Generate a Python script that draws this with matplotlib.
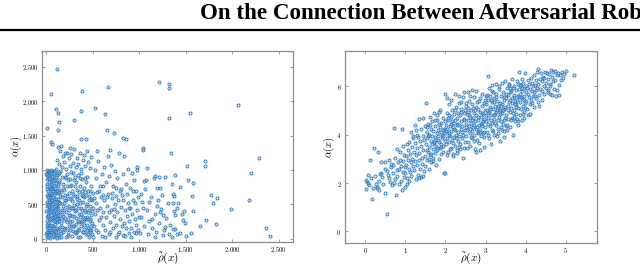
import matplotlib
matplotlib.use("Agg")
import matplotlib.pyplot as plt
from matplotlib.ticker import FuncFormatter

plt.rcParams['mathtext.fontset'] = 'cm'

# ---------------- Left panel data (rho_tilde, alpha) ----------------
left_pts = [
    # dense column near zero
    (5,20),(12,85),(3,150),(20,230),(8,310),(30,45),(15,400),(40,120),(6,480),(25,560),(10,640),(35,720),(4,800),(18,880),(28,960),(45,15),(50,270),(55,350),(60,90),(65,510),(70,600),(75,180),(80,690),(85,770),(90,430),(95,850),(100,930),(105,60),(110,240),(115,330),(120,470),(125,580),(130,140),(135,710),(140,820),(145,390),(2,60),(14,190),(22,340),(33,460),(42,620),(52,750),(62,900),(72,980),(82,30),(92,210),(102,370),(112,530),(122,670),(132,860),(142,960),(7,720),(17,600),(27,470),(37,290),(47,840),(57,990),(67,160),(77,420),(87,550),(97,260),(107,700),(117,920),(127,50),(137,300),(147,620),(9,930),(19,510),(29,80),(39,880),(49,650),(59,730),(69,380),(79,950),(89,110),(99,580),(109,810),(119,10),(129,440),(139,250),(149,980),(1,400),(11,540),(21,700),(31,990),(41,200),(51,100),(61,450),(71,300),(81,860),(91,670),(101,490),(111,160),(121,760),(131,350),(141,530),(3,870),(13,950),(23,20),(34,640),(44,380),(54,560),(64,800),(74,70),(84,320),(94,740),(104,890),(114,430),(124,280),(134,960),(144,110),(6,260),(16,100),(26,820),(36,540),(46,720),(56,200),(66,910),(76,510),(86,640),(96,990),(16,990),(26,930),(36,960),(6,1000),(46,1000),(56,950),
    (4,100),(9,200),(14,330),(24,420),(32,530),(38,660),(48,780),(58,860),(68,40),(78,250),(88,360),(98,470),(108,580),(118,690),(128,790),(138,20),(148,170),(2,940),(12,760),(22,610),(32,150),(42,290),(52,420),(62,560),(72,700),(82,150),(92,330),(102,90),(112,280),(122,380),(132,520),(142,680),
    # dense block 150-500
    (155,30),(160,220),(165,420),(170,610),(175,800),(180,90),(185,330),(190,520),(195,710),(200,900),(205,150),(210,380),(215,560),(220,760),(225,940),(230,60),(235,280),(240,480),(245,670),(250,870),(255,120),(260,350),(265,590),(270,780),(275,40),(280,250),(285,450),(290,650),(295,850),(300,180),(305,400),(310,620),(315,820),(320,80),(325,300),(330,510),(335,710),(340,920),(345,140),(350,360),(355,560),(360,760),(365,30),(370,240),(375,440),(380,640),(385,870),(390,100),(395,320),(400,540),(405,740),(410,200),(415,420),(420,680),(425,60),(430,280),(435,500),(440,900),(445,160),(450,380),(455,620),(460,30),(465,260),(470,470),(475,690),(480,120),(485,340),(490,560),(495,230),(500,440),
    (158,680),(168,900),(178,480),(188,140),(198,560),(208,880),(218,240),(228,620),(238,40),(248,420),(258,760),(268,190),(278,550),(288,960),(298,330),(308,760),(318,100),(328,620),(338,450),(348,240),(358,880),(368,520),(378,180),(388,700),(398,90),(408,600),(418,300),(428,820),(438,130),(448,700),(458,420),(468,130),(478,580),(488,60),(498,660),
    (152,520),(162,80),(172,360),(182,740),(192,270),(202,640),(212,20),(222,460),(232,850),(242,190),(252,580),(262,970),(272,330),(282,700),(292,110),(302,490),(312,900),(322,210),(332,580),(342,30),(352,680),(362,320),(372,960),(382,420),(392,620),(402,260),(412,880),(422,470),(432,640),(442,320),(452,60),(462,560),(472,290),(482,760),(492,400),
    (157,300),(174,170),(191,420),(206,300),(224,120),(241,350),(257,240),(273,440),(289,180),(306,90),(323,410),(339,250),(356,120),(371,360),(387,260),(404,140),(421,380),(436,200),(453,280),(469,90),(486,190),
    # upper band 1000-1300
    (105,1020),(120,1150),(135,1080),(150,1280),(165,1050),(180,1200),(195,1120),(210,1010),(225,1250),(240,1170),(255,1060),(270,1230),(285,1100),(300,1300),(315,1040),(330,1180),(345,1090),(360,1250),(375,1010),(390,1140),(405,1220),(420,1060),(435,1270),(450,1120),(465,1030),(480,1190),(130,1330),(160,1350),(200,1240),(250,1320),
    # 500-1000
    (505,20),(515,180),(525,360),(535,520),(545,680),(555,90),(565,270),(575,450),(585,610),(595,40),(605,200),(615,390),(625,560),(635,130),(645,310),(655,480),(665,650),(675,70),(685,240),(695,420),(705,590),(715,150),(725,330),(735,510),(745,20),(755,200),(765,380),(775,560),(785,100),(795,280),(805,460),(815,640),(825,50),(835,230),(845,410),(855,150),(865,330),(875,520),(885,80),(895,260),(905,440),(915,160),(925,360),(935,560),(945,90),(955,290),(965,200),(975,420),(985,120),(995,320),
    (510,590),(530,120),(550,420),(570,700),(590,310),(610,640),(630,20),(650,600),(670,380),(690,100),(710,660),(730,430),(750,620),(770,60),(790,690),(810,180),(830,560),(850,40),(870,650),(890,450),(910,30),(930,690),(950,520),(970,80),(990,600),
    (520,1000),(540,880),(560,1130),(580,760),(600,940),(620,1050),(640,830),(660,1200),(680,910),(700,1070),(720,770),(740,990),(760,880),(780,1250),(800,720),(820,940),(840,1210),(860,800),(880,1020),(900,740),(920,960),(940,850),(960,700),(980,1050),(550,1280),(610,760),(690,1290),(750,730),
    # 1000-1500
    (1005,80),(1020,310),(1035,540),(1050,190),(1065,720),(1080,420),(1095,60),(1110,260),(1125,600),(1140,150),(1155,880),(1170,360),(1185,100),(1200,560),(1215,230),(1230,430),(1250,640),(1270,120),(1290,300),(1310,520),(1330,200),(1350,30),(1370,620),(1390,140),(1410,450),(1440,80),(1460,360),(1490,230),(1015,650),(1045,440),(1075,860),(1105,540),(1135,290),(1165,20),(1195,740),(1225,390),(1280,900),(1320,70),
    # outliers
    (115,2476),(47,2111),(380,2155),(667,2209),(1216,2286),(1324,2257),(1320,2194),(2063,1947),(104,1883),(126,1830),(373,1864),(524,1898),(635,1820),(1320,1762),(1550,1830),(298,1723),(133,1694),(7,1616),(129,1587),(656,1587),(728,1534),(373,1447),(430,1447),(821,1471),(857,1456),(47,1408),(65,1378),(1044,1325),(1044,1286),(1338,1243),(2285,1180),(1707,1131),(1707,1058),(1510,1063),(2202,961),(972,1000),(1080,1024),(1381,927),(1166,908),(1216,903),(1051,845),(1521,849),(1582,815),(1353,801),(1438,757),(1220,733),(1772,641),(1568,621),(1363,650),(1837,597),(1790,515),(1420,519),(1363,524),(1187,481),(1485,408),(1582,398),(1377,398),(1381,340),(1255,340),(1987,437),(2177,558),(1830,214),(1471,267),(1722,267),(1654,184),(2360,155),(2407,34),(1553,83),(1506,34),(1363,136),(1402,73),(1255,49),(1273,170),
]
left_rho = [p[0] for p in left_pts]
left_alpha = [p[1] for p in left_pts]

# ---------------- Right panel data ----------------
right_pts = [
    (0.02,1.75),(0.03,2.11),(0.05,2.05),(0.08,2.35),(0.10,1.90),(0.12,2.94),(0.15,2.20),(0.17,1.32),(0.20,1.78),(0.22,3.46),(0.25,2.30),(0.27,1.95),(0.30,1.85),(0.32,3.28),(0.33,2.10),(0.35,1.72),(0.38,2.40),(0.40,2.88),(0.42,2.25),(0.45,1.98),(0.48,2.60),(0.50,1.57),(0.50,2.85),(0.06,2.00),(0.28,1.80),(0.36,2.36),
    (0.53,0.70),(0.55,2.50),(0.58,2.20),(0.60,2.95),(0.62,2.05),(0.64,2.65),(0.66,1.90),(0.68,2.40),(0.70,2.75),(0.72,4.29),(0.73,2.15),(0.75,3.05),(0.77,1.50),(0.78,2.55),(0.80,2.30),(0.82,2.85),(0.83,1.95),(0.85,2.60),(0.86,3.30),(0.88,2.10),(0.90,2.70),(0.92,4.22),(0.93,2.45),(0.94,3.55),(0.95,2.90),(0.96,2.25),(0.97,3.15),(0.98,1.85),(0.99,2.65),(0.57,2.35),(0.63,2.78),(0.71,2.00),(0.79,3.40),(0.87,2.95),(0.91,1.70),
    (1.00,2.40),(1.01,3.10),(1.02,2.75),(1.03,3.60),(1.05,2.20),(1.06,3.35),(1.07,2.95),(1.08,2.60),(1.10,3.70),(1.11,2.45),(1.12,3.20),(1.13,2.85),(1.14,4.10),(1.15,2.30),(1.16,3.50),(1.17,3.00),(1.18,2.70),(1.20,3.85),(1.21,2.55),(1.22,3.30),(1.23,4.40),(1.24,2.90),(1.25,3.65),(1.26,2.15),(1.27,3.15),(1.28,2.75),(1.29,4.00),(1.30,3.45),(1.31,2.35),(1.32,3.90),(1.33,2.95),(1.34,4.65),(1.35,3.25),(1.36,2.60),(1.37,3.75),(1.38,2.25),(1.39,3.55),(1.40,4.25),(1.41,3.05),(1.42,2.80),(1.43,3.95),(1.44,4.70),(1.45,3.35),(1.46,2.50),(1.47,3.80),(1.48,4.35),(1.49,3.10),(1.50,2.70),(1.04,1.95),(1.19,3.95),(1.09,2.10),(1.26,4.20),(1.35,2.20),(1.45,2.30),
    (1.51,5.32),(1.52,3.60),(1.53,4.10),(1.54,2.95),(1.55,3.85),(1.56,4.45),(1.57,3.30),(1.58,2.60),(1.59,4.00),(1.60,3.50),(1.61,4.75),(1.62,3.15),(1.63,3.75),(1.64,4.25),(1.65,2.85),(1.66,3.95),(1.67,4.55),(1.68,3.40),(1.69,3.05),(1.70,4.15),(1.71,3.65),(1.72,4.90),(1.73,3.25),(1.74,3.90),(1.75,4.35),(1.76,2.75),(1.77,3.55),(1.78,4.05),(1.79,4.60),(1.80,3.35),(1.81,3.80),(1.82,4.20),(1.83,3.00),(1.84,4.95),(1.85,3.70),(1.86,4.30),(1.87,3.45),(1.88,4.10),(1.89,3.20),(1.90,4.50),(1.91,3.85),(1.92,4.00),(1.93,3.55),(1.94,4.70),(1.95,3.30),(1.96,2.43),(1.97,4.25),(1.98,3.75),(1.99,2.40),(1.99,5.67),(2.00,4.05),(1.53,3.35),(1.57,3.95),(1.62,4.40),(1.66,3.60),(1.70,2.90),(1.74,4.60),(1.78,3.45),(1.82,3.95),(1.86,5.00),(1.90,3.60),(1.94,4.20),(1.98,4.55),(1.55,4.30),(1.65,3.20),(1.75,3.80),(1.85,4.45),(1.95,3.95),(1.60,3.00),(1.80,4.80),(1.72,3.70),(1.88,3.50),
    (2.01,4.40),(2.02,3.60),(2.03,4.90),(2.04,3.85),(2.05,4.25),(2.06,3.30),(2.07,4.60),(2.08,4.05),(2.09,5.25),(2.10,3.70),(2.11,4.35),(2.12,3.95),(2.13,4.75),(2.14,3.45),(2.15,4.15),(2.16,5.00),(2.17,3.80),(2.18,4.50),(2.19,3.20),(2.20,4.30),(2.21,4.85),(2.22,3.90),(2.23,4.60),(2.24,3.55),(2.25,4.20),(2.26,5.15),(2.27,4.00),(2.28,4.45),(2.29,3.35),(2.30,4.70),(2.31,4.10),(2.32,3.75),(2.33,5.30),(2.34,4.40),(2.35,3.95),(2.36,4.80),(2.37,3.60),(2.38,4.25),(2.39,5.05),(2.40,4.55),(2.41,3.85),(2.42,4.35),(2.43,5.55),(2.44,4.00),(2.45,4.65),(2.46,3.45),(2.47,4.90),(2.48,4.20),(2.49,3.70),(2.50,5.20),
    (2.02,4.15),(2.06,4.70),(2.10,4.00),(2.14,4.45),(2.18,3.65),(2.22,4.25),(2.26,3.85),(2.30,4.40),(2.34,3.50),(2.38,4.95),(2.42,4.10),(2.46,4.60),(2.50,4.30),(2.04,3.15),(2.12,3.40),(2.20,3.10),(2.28,3.25),(2.36,3.40),(2.44,3.05),(2.08,4.80),(2.16,4.55),(2.24,5.00),(2.32,4.90),(2.40,5.35),(2.48,5.00),(2.05,5.50),(2.15,5.45),(2.25,5.70),(2.35,5.60),(2.45,5.75),
    (2.51,4.45),(2.52,3.95),(2.53,4.85),(2.54,4.20),(2.55,5.10),(2.56,3.70),(2.57,4.60),(2.58,4.35),(2.59,5.40),(2.60,4.05),(2.61,4.75),(2.62,3.55),(2.63,5.00),(2.64,4.50),(2.65,4.15),(2.66,5.25),(2.67,3.85),(2.68,4.70),(2.69,4.30),(2.70,5.55),(2.71,4.00),(2.72,4.90),(2.73,3.40),(2.74,4.55),(2.75,5.15),(2.76,4.25),(2.77,4.80),(2.78,3.80),(2.79,5.35),(2.80,4.60),(2.81,4.10),(2.82,5.05),(2.83,4.40),(2.84,3.65),(2.85,4.95),(2.86,5.50),(2.87,4.20),(2.88,4.75),(2.89,3.95),(2.90,5.20),(2.91,4.50),(2.92,5.70),(2.93,4.05),(2.94,4.85),(2.95,3.50),(2.96,5.30),(2.97,4.65),(2.98,4.30),(2.99,5.00),(3.00,4.80),
    (2.52,5.30),(2.56,4.95),(2.60,5.60),(2.64,3.90),(2.68,5.10),(2.72,4.40),(2.76,5.80),(2.80,4.05),(2.84,5.40),(2.88,4.45),(2.92,4.90),(2.96,4.10),(3.00,5.60),(2.54,3.45),(2.62,4.25),(2.70,3.75),(2.78,4.30),(2.86,4.10),(2.94,4.55),(2.58,4.80),(2.66,4.60),(2.74,5.00),(2.82,4.75),(2.90,4.35),(2.98,5.45),(2.55,5.75),(2.65,5.85),(2.75,3.30),(2.85,3.35),(2.95,3.90),
    (3.01,4.55),(3.02,5.25),(3.03,4.10),(3.04,5.00),(3.05,6.44),(3.06,4.70),(3.07,5.45),(3.08,3.85),(3.09,4.95),(3.10,5.60),(3.11,4.35),(3.12,5.15),(3.13,4.80),(3.14,3.60),(3.15,5.35),(3.16,4.50),(3.17,5.80),(3.18,4.15),(3.19,5.05),(3.20,4.65),(3.21,5.50),(3.22,4.00),(3.23,5.20),(3.24,4.85),(3.25,5.70),(3.26,4.40),(3.27,4.95),(3.28,3.95),(3.29,5.40),(3.30,4.60),(3.31,5.10),(3.32,4.25),(3.33,5.90),(3.34,4.75),(3.35,5.30),(3.36,3.75),(3.37,5.00),(3.38,4.55),(3.39,5.60),(3.40,4.20),(3.41,5.25),(3.42,4.90),(3.43,5.75),(3.44,4.45),(3.45,5.05),(3.46,3.90),(3.47,5.45),(3.48,4.70),(3.49,5.15),(3.50,4.35),
    (3.03,5.65),(3.07,4.45),(3.11,5.05),(3.15,4.20),(3.19,5.75),(3.23,4.50),(3.27,5.55),(3.31,4.05),(3.35,4.95),(3.39,4.30),(3.43,5.00),(3.47,4.15),(3.05,4.90),(3.13,5.45),(3.21,4.80),(3.29,5.00),(3.37,4.85),(3.45,5.55),(3.09,5.95),(3.17,6.05),(3.25,6.10),(3.33,6.00),(3.41,6.15),(3.49,6.20),(3.06,4.00),(3.14,4.60),(3.22,5.35),(3.30,5.20),(3.38,5.20),(3.46,4.60),
    (3.51,5.50),(3.52,4.80),(3.53,5.95),(3.54,4.40),(3.55,5.20),(3.56,5.65),(3.57,4.65),(3.58,5.35),(3.59,6.10),(3.60,4.95),(3.61,5.45),(3.62,4.30),(3.63,5.80),(3.64,5.10),(3.65,4.70),(3.66,6.30),(3.67,5.30),(3.68,4.90),(3.69,4.00),(3.70,5.55),(3.71,5.00),(3.72,6.00),(3.73,4.55),(3.74,5.40),(3.75,5.85),(3.76,4.85),(3.77,5.25),(3.78,6.20),(3.79,4.65),(3.80,5.60),(3.81,5.10),(3.82,4.40),(3.83,5.90),(3.84,6.58),(3.85,5.35),(3.86,4.80),(3.87,5.70),(3.88,5.05),(3.89,6.05),(3.90,5.50),(3.91,4.60),(3.92,5.80),(3.93,5.20),(3.94,6.15),(3.95,4.95),(3.96,5.45),(3.97,5.95),(3.98,6.57),(3.99,5.30),(4.00,5.75),
    (3.55,5.00),(3.60,5.75),(3.65,5.50),(3.70,4.75),(3.75,5.15),(3.80,4.55),(3.85,6.05),(3.90,5.95),(3.95,5.60),(3.53,4.20),(3.63,4.60),(3.73,5.25),(3.83,5.55),(3.93,4.85),(3.58,6.05),(3.68,5.95),(3.78,5.45),(3.88,5.55),(3.98,5.10),(3.52,5.70),(3.62,5.95),(3.72,5.65),(3.82,6.10),(3.92,6.30),(3.97,4.70),
    (4.01,5.40),(4.02,6.00),(4.03,5.05),(4.05,5.70),(4.06,6.25),(4.07,4.80),(4.08,5.55),(4.09,6.10),(4.10,5.25),(4.11,4.84),(4.12,5.90),(4.13,6.35),(4.14,5.45),(4.15,5.80),(4.16,6.15),(4.17,5.30),(4.18,6.00),(4.19,5.60),(4.20,6.45),(4.21,5.75),(4.22,5.15),(4.23,6.05),(4.25,5.85),(4.26,6.25),(4.27,5.50),(4.28,6.60),(4.29,5.95),(4.30,5.35),(4.31,6.73),(4.32,6.10),(4.33,5.65),(4.35,6.30),(4.36,5.90),(4.38,6.55),(4.40,5.80),(4.41,6.20),(4.42,5.45),(4.44,6.40),(4.45,6.00),(4.47,5.70),(4.48,6.60),(4.50,6.15),(4.04,5.95),(4.24,5.60),(4.34,5.20),(4.46,6.35),
    (4.52,5.95),(4.53,6.54),(4.55,6.30),(4.57,5.85),(4.58,6.50),(4.60,6.10),(4.62,5.70),(4.64,6.69),(4.65,5.66),(4.66,6.40),(4.68,6.20),(4.70,5.90),(4.72,6.65),(4.74,6.25),(4.75,5.60),(4.77,6.45),(4.80,6.55),(4.82,6.04),(4.84,5.65),(4.87,6.25),(4.90,6.60),(4.93,6.35),(4.96,6.50),(5.01,6.65),(5.21,6.46),(4.55,5.75),(4.69,6.60),(4.78,5.85),(4.61,6.00),(4.85,6.45),
]
right_rho = [p[0] for p in right_pts]
right_alpha = [p[1] for p in right_pts]

left_xticks = [0, 500, 1000, 1500, 2000, 2500]
left_yticks = [0, 500, 1000, 1500, 2000, 2500]
right_xticks = [0, 1, 2, 3, 4, 5]
right_yticks = [0, 2, 4, 6]

header = "On the Connection Between Adversarial Robustness"

W, H = 640, 267
fig = plt.figure(figsize=(W / 100, H / 100), dpi=100)

# header text + rule
fig.text(200 / W, 1 - 19 / H, header, fontsize=16.6, fontweight='bold',
         family='Liberation Serif', ha='left', va='baseline')
fig.add_artist(plt.Line2D([0, 1], [1 - 29.5 / H, 1 - 29.5 / H], color='black', lw=1.6))

blue = '#2f78bd'
frame = '#8c8c8c'

def comma_fmt(v, pos):
    s = f"{int(round(v)):,}".replace(",", "{,}")
    return f"${s}$"

def int_fmt(v, pos):
    return f"${int(round(v))}$"

def style(ax):
    for sp in ax.spines.values():
        sp.set_color(frame)
        sp.set_linewidth(0.9)
    ax.tick_params(direction='in', length=2.5, width=0.6, color=frame,
                   labelsize=4.8, pad=2.5, top=True, right=True)

axL = fig.add_axes([42 / W, 1 - 242 / H, 251 / W, 191 / H])
axL.scatter(left_rho, left_alpha, s=5, facecolors=(0.55, 0.75, 0.92, 0.45),
            edgecolors=blue, linewidths=0.6, zorder=3)
axL.set_xlim(-46, 2654)
axL.set_ylim(-50, 2733)
axL.set_xticks(left_xticks)
axL.set_yticks(left_yticks)
axL.xaxis.set_major_formatter(FuncFormatter(comma_fmt))
axL.yaxis.set_major_formatter(FuncFormatter(comma_fmt))
style(axL)
axL.set_xlabel(r'$\tilde{\rho}(x)$', fontsize=8, va='center')
axL.xaxis.set_label_coords(0.5, (242 - 258) / 191)
axL.set_ylabel(r'$\alpha(x)$', fontsize=7.5, va='center')
axL.yaxis.set_label_coords((16 - 42) / 251, 0.5)

axR = fig.add_axes([345 / W, 1 - 243 / H, 252 / W, 192 / H])
axR.scatter(right_rho, right_alpha, s=5, facecolors=(0.55, 0.75, 0.92, 0.45),
            edgecolors=blue, linewidths=0.6, zorder=3)
axR.set_xlim(-0.506, 5.78)
axR.set_ylim(-0.48, 7.46)
axR.set_xticks(right_xticks)
axR.set_yticks(right_yticks)
axR.xaxis.set_major_formatter(FuncFormatter(int_fmt))
axR.yaxis.set_major_formatter(FuncFormatter(int_fmt))
style(axR)
axR.set_xlabel(r'$\tilde{\rho}(x)$', fontsize=8, va='center')
axR.xaxis.set_label_coords(0.5, (243 - 258) / 192)
axR.set_ylabel(r'$\alpha(x)$', fontsize=7.5, va='center')
axR.yaxis.set_label_coords((329 - 345) / 252, 0.5)

fig.savefig('out.png', dpi=100)
